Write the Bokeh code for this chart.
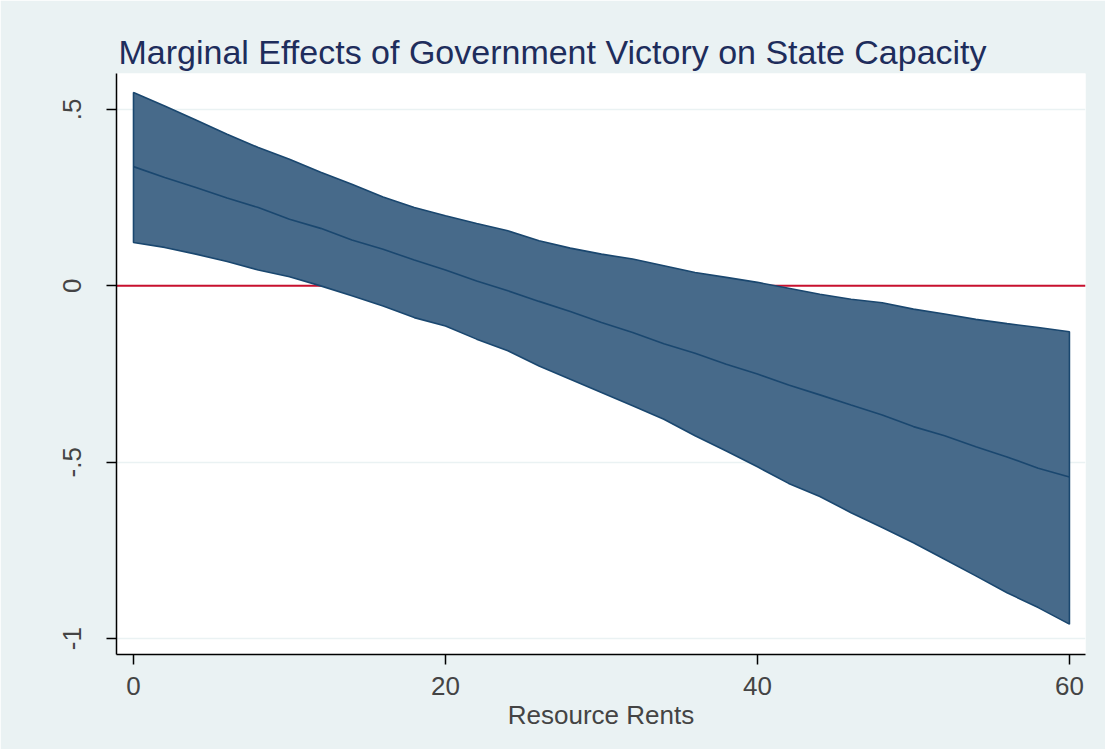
from bokeh.plotting import figure
from bokeh.models import Range1d, FixedTicker, Span
from bokeh.embed import file_html
from bokeh.resources import INLINE

title_text = "Marginal Effects of Government Victory on State Capacity"
x_label = "Resource Rents"

rents = [0, 2, 4, 6, 8, 10, 12, 14, 16, 18, 20, 22, 24, 26, 28, 30,
         32, 34, 36, 38, 40, 42, 44, 46, 48, 50, 52, 54, 56, 58, 60]
upper = [0.548, 0.510, 0.470, 0.430, 0.392, 0.359, 0.322, 0.288, 0.252, 0.222,
         0.199, 0.177, 0.156, 0.128, 0.107, 0.090, 0.076, 0.057, 0.038, 0.024,
         0.010, -0.007, -0.024, -0.038, -0.048, -0.066, -0.080, -0.095, -0.107,
         -0.118, -0.130]
effect = [0.338, 0.307, 0.279, 0.249, 0.222, 0.189, 0.163, 0.130, 0.104, 0.073,
          0.045, 0.014, -0.014, -0.044, -0.073, -0.104, -0.132, -0.164, -0.191,
          -0.222, -0.250, -0.281, -0.309, -0.338, -0.366, -0.399, -0.425, -0.456,
          -0.485, -0.517, -0.542]
lower = [0.123, 0.109, 0.090, 0.069, 0.045, 0.026, 0.000, -0.028, -0.057, -0.090,
         -0.114, -0.151, -0.184, -0.227, -0.265, -0.302, -0.340, -0.378, -0.425,
         -0.468, -0.513, -0.560, -0.597, -0.643, -0.685, -0.728, -0.775, -0.822,
         -0.870, -0.912, -0.959]

x_ticks = [0, 20, 40, 60]
y_ticks = [-1, -0.5, 0, 0.5]
y_tick_labels = ["-1", "-.5", "0", ".5"]

FONT = "Liberation Sans"
BG = "#EAF2F3"
NAVY = "#1A476F"
FILL = "#476A8A"

p = figure(frame_width=969, frame_height=581,
           min_border_left=116, min_border_right=20,
           min_border_top=73, min_border_bottom=95,
           x_range=Range1d(-1.09, 61.03), y_range=Range1d(-1.045, 0.602),
           output_backend="svg", toolbar_location=None,
           background_fill_color="white", border_fill_color=BG,
           outline_line_color=None)

p.title.text = title_text
p.title.text_font = FONT
p.title.text_font_size = "34px"
p.title.text_font_style = "normal"
p.title.text_color = "#1E2D5C"
p.title.offset = 2
p.title.standoff = 5

# zero reference line beneath the band
p.add_layout(Span(location=0, dimension="width", line_color="#C8102E",
                  line_width=2, level="underlay"))

band_x = rents + rents[::-1]
band_y = upper + lower[::-1]
p.patch(band_x, band_y, fill_color=FILL, line_color=NAVY, line_width=1.6)
p.line(rents, effect, line_color=NAVY, line_width=1.6)

# axes
xa = p.xaxis[0]
xa.ticker = FixedTicker(ticks=x_ticks)
xa.axis_label = x_label
xa.axis_label_text_font = FONT
xa.axis_label_text_font_style = "normal"
xa.axis_label_text_font_size = "26px"
xa.axis_label_standoff = 2
xa.major_label_text_font = FONT
xa.major_label_text_font_size = "26px"
xa.major_label_standoff = 12
xa.major_tick_out = 10
xa.major_tick_in = 0
xa.minor_tick_out = 0
xa.minor_tick_in = 0
xa.axis_line_width = 1.5
xa.major_tick_line_width = 1.5
xa.axis_line_color = "black"
xa.major_tick_line_color = "black"

ya = p.yaxis[0]
ya.ticker = FixedTicker(ticks=y_ticks)
ya.major_label_overrides = {t: s for t, s in zip(y_ticks, y_tick_labels)}
ya.major_label_orientation = "vertical"
ya.major_label_text_font = FONT
ya.major_label_text_font_size = "26px"
ya.major_label_standoff = 25
ya.major_tick_out = 10
ya.major_tick_in = 0
ya.minor_tick_out = 0
ya.minor_tick_in = 0
ya.axis_line_width = 1.5
ya.major_tick_line_width = 1.5
ya.axis_line_color = "black"
ya.major_tick_line_color = "black"

p.xgrid.grid_line_color = None
p.ygrid.grid_line_color = BG
p.ygrid.grid_line_width = 1.5

open("out.html", "w").write(file_html(p, INLINE))
